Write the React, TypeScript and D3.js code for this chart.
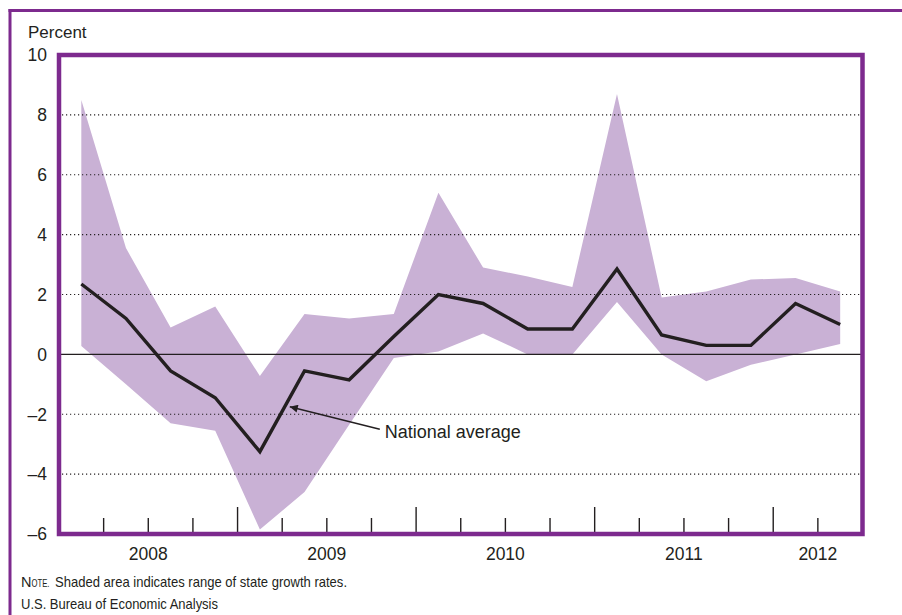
import React from 'react';
import * as d3 from 'd3';

// quarterly state GDP growth
const quarters = [
  '2008Q1', '2008Q2', '2008Q3', '2008Q4',
  '2009Q1', '2009Q2', '2009Q3', '2009Q4',
  '2010Q1', '2010Q2', '2010Q3', '2010Q4',
  '2011Q1', '2011Q2', '2011Q3', '2011Q4',
  '2012Q1', '2012Q2',
];
const national = [2.35, 1.2, -0.55, -1.45, -3.25, -0.55, -0.85, 0.6, 2.0, 1.7, 0.85, 0.85, 2.85, 0.65, 0.3, 0.3, 1.7, 1.0];
const stateHigh = [8.5, 3.55, 0.9, 1.6, -0.72, 1.35, 1.2, 1.35, 5.4, 2.9, 2.6, 2.25, 8.7, 1.9, 2.1, 2.5, 2.55, 2.1];
const stateLow = [0.28, -1.0, -2.3, -2.55, -5.85, -4.6, -2.35, -0.12, 0.1, 0.7, 0.0, 0.0, 1.75, 0.0, -0.9, -0.35, 0.0, 0.35];
const yTicks = [-6, -4, -2, 0, 2, 4, 6, 8, 10];
const years = ['2008', '2009', '2010', '2011', '2012'];

const PURPLE = '#7d2a8e';
const SHADE = '#c9b1d5';
const INK = '#231f20';
const FONT = '"Liberation Sans", Arial, sans-serif';

export default function App() {
  const width = 902;
  const height = 615;
  const left = 59;
  const right = 862.5;
  const top = 55;
  const bottom = 534;

  const x = d3.scaleBand<string>().domain(quarters).range([left, right]);
  const y = d3.scaleLinear().domain([-6, 10]).range([bottom, top]);
  const cx = (q: string) => (x(q) as number) + x.bandwidth() / 2;

  const area = d3.area<number>()
    .x((_, i) => cx(quarters[i]))
    .y0((_, i) => y(stateLow[i]))
    .y1(d => y(d));

  const line = d3.line<number>()
    .x((_, i) => cx(quarters[i]))
    .y(d => y(d));

  const fmt = (d: number) => (d < 0 ? `\u2013${-d}` : `${d}`);

  // year label sits in the middle of the quarters belonging to that year
  const yearCenter = (yr: string) => {
    const qs = quarters.filter(q => q.startsWith(yr));
    const a = x(qs[0]) as number;
    const b = (x(qs[qs.length - 1]) as number) + x.bandwidth();
    return (a + b) / 2;
  };

  // annotation arrow: points at the 2009Q1-2009Q2 segment
  const tipX = cx('2009Q1') + 0.67 * x.bandwidth();
  const tipY = y(-1.75);
  const labelX = cx('2009Q4') - 9;

  return (
    <svg
      width={width}
      height={height}
      style={{ position: 'absolute', left: 0, top: 0, background: '#fff' }}
      fontFamily={FONT}
    >
      <defs>
        <marker id="arrow" viewBox="0 0 10 10" refX="10" refY="5"
          markerWidth="13" markerHeight="8" markerUnits="userSpaceOnUse" orient="auto">
          <path d="M0,0 L10,5 L0,10 z" fill={INK} />
        </marker>
      </defs>

      {/* outer panel frame */}
      <line x1={8.5} x2={width} y1={10.5} y2={10.5} stroke={PURPLE} strokeWidth={3} />
      <line x1={10} x2={10} y1={9} y2={height} stroke={PURPLE} strokeWidth={3} />

      <text x={28} y={38} fontSize={17} fill={INK}>Percent</text>

      {/* range of state growth rates */}
      <path d={area(stateHigh) || ''} fill={SHADE} />

      {/* gridlines */}
      {yTicks.filter(t => t > -6 && t < 10 && t !== 0).map(t => (
        <line key={t} x1={left + 3} x2={right - 2} y1={y(t)} y2={y(t)}
          stroke={INK} strokeWidth={1.2} strokeDasharray="1.2,2.8" />
      ))}
      <line x1={left} x2={right} y1={y(0)} y2={y(0)} stroke={INK} strokeWidth={1.4} />

      {/* quarter ticks, longer at year boundaries */}
      {quarters.slice(1).map(q => {
        const tx = x(q) as number;
        const long = q.endsWith('Q1');
        return (
          <line key={q} x1={tx} x2={tx} y1={bottom} y2={bottom - (long ? 27 : 16)}
            stroke={INK} strokeWidth={1.4} />
        );
      })}

      <path d={line(national) || ''} fill="none" stroke={INK} strokeWidth={3.4} strokeLinejoin="miter" />

      {/* plot box */}
      <rect x={left} y={top} width={right - left} height={bottom - top}
        fill="none" stroke={PURPLE} strokeWidth={4.5} />

      {/* y axis labels */}
      {yTicks.map(t => (
        <text key={t} x={47} y={y(t)} dy="0.36em" textAnchor="end" fontSize={17.5} fill={INK}>
          {fmt(t)}
        </text>
      ))}

      {/* year labels */}
      {years.map(yr => (
        <text key={yr} x={yearCenter(yr)} y={559.5} textAnchor="middle" fontSize={17.5} fill={INK}>
          {yr}
        </text>
      ))}

      {/* annotation */}
      <line x1={labelX - 5} y1={y(-2.5)} x2={tipX} y2={tipY}
        stroke={INK} strokeWidth={1.4} markerEnd="url(#arrow)" />
      <text x={labelX} y={y(-2.8)} fontSize={18} fill={INK}>National average</text>

      {/* notes: "Note" set in small caps */}
      <text x={21} y={587} fontSize={14.5} fill={INK}>N</text>
      <text x={31.5} y={587} fontSize={10.2} fill={INK} textLength={18} lengthAdjust="spacingAndGlyphs">OTE.</text>
      <text x={55} y={587} fontSize={14.5} fill={INK} textLength={292} lengthAdjust="spacingAndGlyphs">
        Shaded area indicates range of state growth rates.
      </text>
      <text x={21} y={609} fontSize={14.5} fill={INK} textLength={197} lengthAdjust="spacingAndGlyphs">
        U.S. Bureau of Economic Analysis
      </text>
    </svg>
  );
}
